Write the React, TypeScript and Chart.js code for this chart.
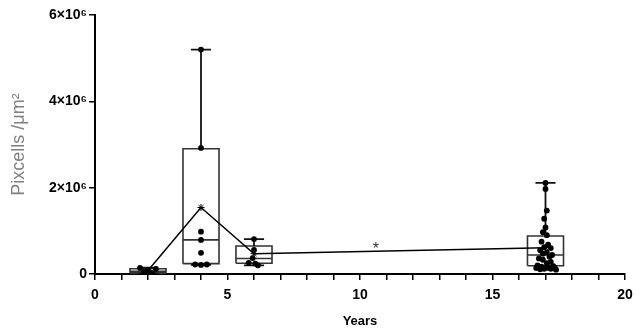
import React, { useEffect, useRef } from "react";
import { Chart, registerables } from "chart.js";

Chart.register(...registerables);

// Group positions (years)
const years = [2, 4, 6, 17];
// Box statistics (×10^6 pixcells/µm²)
const mins = [0.01, 0.21, 0.2, 0.1];
const q1s = [0.02, 0.24, 0.25, 0.19];
const medians = [0.06, 0.79, 0.36, 0.44];
const q3s = [0.12, 2.9, 0.65, 0.88];
const maxs = [0.15, 5.2, 0.81, 2.11];
const means = [0.08, 1.54, 0.47, 0.61];

// Individual observations (×10^6) and their horizontal jitter (years)
const values2y = [0.14, 0.12, 0.08, 0.05, 0.02];
const jitter2y = [-0.3, 0.3, 0, -0.15, 0.15];
const values4y = [5.2, 2.92, 0.98, 0.79, 0.49, 0.22, 0.21, 0.22];
const jitter4y = [0, 0, 0, 0, 0, -0.22, 0, 0.22];
const values6y = [0.81, 0.56, 0.37, 0.26, 0.24, 0.2];
const jitter6y = [0, 0, -0.05, -0.2, 0.05, 0.15];
const values17y = [
  2.11, 1.97, 1.47, 1.28, 1.08, 0.97, 0.9, 0.75, 0.68, 0.62, 0.6, 0.55, 0.5, 0.47, 0.44,
  0.4, 0.36, 0.33, 0.28, 0.25, 0.2, 0.18, 0.17, 0.15, 0.14, 0.13, 0.12, 0.12, 0.11, 0.1,
];
const jitter17y = [
  0, 0, 0.05, -0.05, 0, -0.1, 0.05, -0.15, 0.1, -0.05, 0.2, -0.2, 0.05, -0.1, 0.25,
  0.15, -0.25, -0.1, 0.2, 0.05, -0.3, 0.3, -0.15, 0.1, -0.35, 0.35, -0.05, 0.2, -0.2, 0.4,
];
const pointGroups = [
  { year: 2, values: values2y, jitter: jitter2y },
  { year: 4, values: values4y, jitter: jitter4y },
  { year: 6, values: values6y, jitter: jitter6y },
  { year: 17, values: values17y, jitter: jitter17y },
];

// Significance marker
const starLabel = "*";
const starX = 10.6;
const starY = 0.63;

// Axis ticks
const yTickValues = [0, 2e6, 4e6, 6e6];
const yTickLabels = ["0", "2×10⁶", "4×10⁶", "6×10⁶"];
const xTitle = "Years";
const yTitle = "Pixcells /μm²";

const M = 1e6;
const HALF_BOX = 0.68;
const HALF_CAP = 0.38;
const FONT = "'Liberation Sans', Arial, sans-serif";

export default function App() {
  const ref = useRef<HTMLCanvasElement>(null);

  useEffect(() => {
    document.body.style.margin = "0";
    const canvas = ref.current;
    if (!canvas) return;

    const boxData: any[] = [];
    const whiskerData: any[] = [];
    years.forEach((x, i) => {
      const l = x - HALF_BOX;
      const r = x + HALF_BOX;
      boxData.push(
        { x: l, y: q1s[i] * M },
        { x: r, y: q1s[i] * M },
        { x: r, y: q3s[i] * M },
        { x: l, y: q3s[i] * M },
        { x: l, y: q1s[i] * M },
        { x: x, y: null },
        { x: l, y: medians[i] * M },
        { x: r, y: medians[i] * M },
        { x: x, y: null }
      );
      whiskerData.push(
        { x: x, y: q3s[i] * M },
        { x: x, y: maxs[i] * M },
        { x: x, y: null },
        { x: x - HALF_CAP, y: maxs[i] * M },
        { x: x + HALF_CAP, y: maxs[i] * M },
        { x: x, y: null },
        { x: x, y: q1s[i] * M },
        { x: x, y: mins[i] * M },
        { x: x, y: null },
        { x: x - HALF_CAP, y: mins[i] * M },
        { x: x + HALF_CAP, y: mins[i] * M },
        { x: x, y: null }
      );
    });

    const pts: any[] = [];
    pointGroups.forEach((g) => {
      g.values.forEach((v, j) => pts.push({ x: g.year + g.jitter[j], y: v * M }));
    });

    const starPlugin = {
      id: "starLabel",
      afterDatasetsDraw(chart: any) {
        const { ctx, scales } = chart;
        ctx.save();
        ctx.fillStyle = "#333";
        ctx.font = `16px ${FONT}`;
        ctx.textAlign = "center";
        ctx.textBaseline = "middle";
        ctx.fillText(starLabel, scales.x.getPixelForValue(starX), scales.y.getPixelForValue(starY * M) + 3);
        ctx.restore();
      },
    };

    const chart = new Chart(canvas, {
      type: "scatter",
      data: {
        datasets: [
          {
            data: pts,
            pointRadius: 2.9,
            pointHoverRadius: 2.9,
            backgroundColor: "#000",
            borderColor: "#000",
            borderWidth: 0,
          },
          {
            data: years.map((x, i) => ({ x, y: means[i] * M })),
            showLine: true,
            borderColor: "#000",
            borderWidth: 1.5,
            pointStyle: "star",
            pointRadius: 3.5,
            pointBorderColor: "#000",
            pointBorderWidth: 1,
            backgroundColor: "#000",
          },
          {
            data: whiskerData,
            showLine: true,
            spanGaps: false,
            borderColor: "#111",
            borderWidth: 1.8,
            pointRadius: 0,
          },
          {
            data: boxData,
            showLine: true,
            spanGaps: false,
            borderColor: "#333",
            borderWidth: 1.6,
            pointRadius: 0,
          },
        ] as any,
      },
      plugins: [starPlugin],
      options: {
        animation: false,
        responsive: false,
        maintainAspectRatio: false,
        layout: { padding: { left: 0, top: 15, right: 19, bottom: 0 } },
        plugins: { legend: { display: false }, tooltip: { enabled: false } },
        scales: {
          x: {
            type: "linear",
            min: 0,
            max: 20,
            afterFit: (s: any) => {
              s.height = 55;
            },
            afterBuildTicks: (s: any) => {
              const t = [];
              for (let v = 0; v <= 20; v++) t.push({ value: v });
              s.ticks = t;
            },
            ticks: {
              autoSkip: false,
              maxRotation: 0,
              padding: 7,
              color: "#000",
              font: { family: FONT, size: 14, weight: "bold" },
              callback: (v: any) => (Number(v) % 5 === 0 ? String(v) : ""),
            },
            grid: { drawOnChartArea: false, drawTicks: true, tickLength: 6, color: "#000", lineWidth: 1.5 },
            border: { color: "#000", width: 2 },
            title: {
              display: true,
              text: xTitle,
              color: "#000",
              font: { family: FONT, size: 13, weight: "bold" },
              padding: { top: 5, bottom: 0 },
            },
          },
          y: {
            type: "linear",
            min: 0,
            max: 6e6,
            afterFit: (s: any) => {
              s.width = 95;
            },
            afterBuildTicks: (s: any) => {
              s.ticks = yTickValues.map((v) => ({ value: v }));
            },
            ticks: {
              padding: 2,
              color: "#000",
              font: { family: FONT, size: 14, weight: "bold" },
              callback: (v: any) => {
                const k = yTickValues.indexOf(Number(v));
                return k >= 0 ? yTickLabels[k] : "";
              },
            },
            grid: { drawOnChartArea: false, drawTicks: true, tickLength: 6, color: "#000", lineWidth: 1.5 },
            border: { color: "#000", width: 2 },
            title: {
              display: true,
              text: yTitle,
              color: "#808080",
              font: { family: FONT, size: 18, weight: "normal" },
              padding: { top: 8, bottom: 0 },
            },
          },
        },
      },
    });
    return () => chart.destroy();
  }, []);

  return (
    <div style={{ width: 644, height: 329 }}>
      <canvas ref={ref} width={644} height={329} style={{ display: "block" }} />
    </div>
  );
}
